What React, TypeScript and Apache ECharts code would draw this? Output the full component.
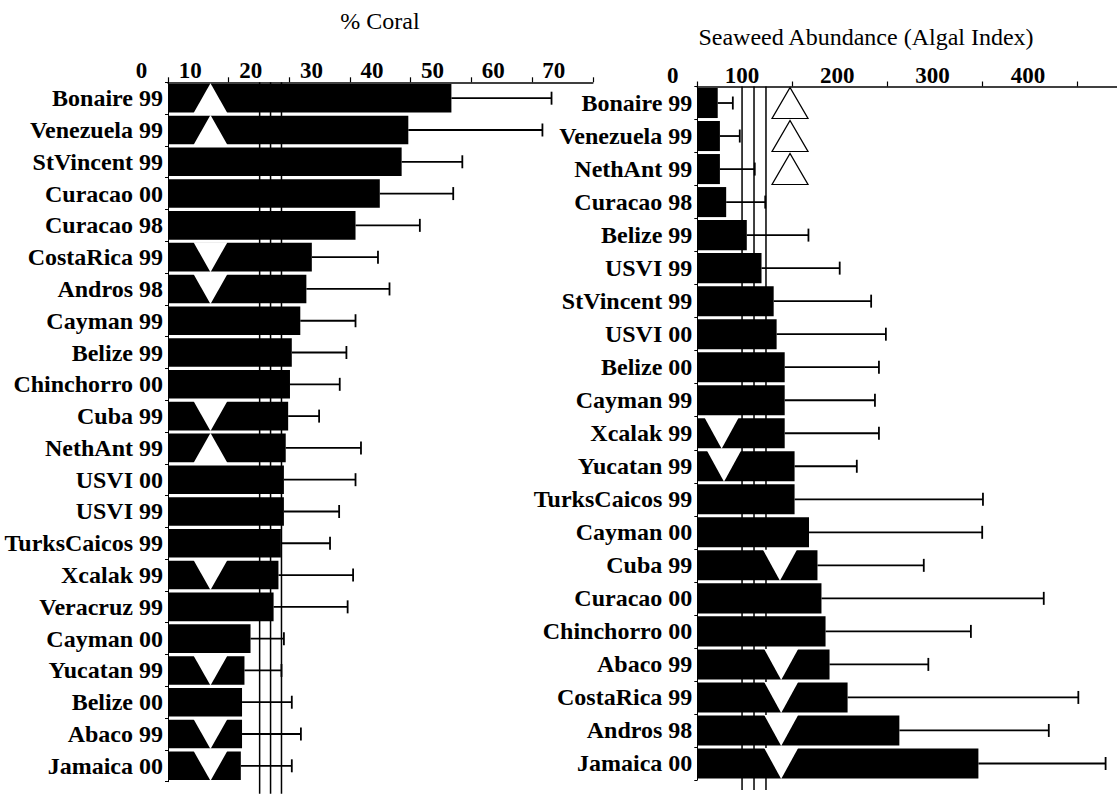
import React, { useEffect, useRef } from "react";
import * as echarts from "echarts";

// ---- % live coral cover by site (mean and upper error) ----
const coralSites = [
  "Bonaire 99", "Venezuela 99", "StVincent 99", "Curacao 00", "Curacao 98",
  "CostaRica 99", "Andros 98", "Cayman 99", "Belize 99", "Chinchorro 00",
  "Cuba 99", "NethAnt 99", "USVI 00", "USVI 99", "TurksCaicos 99",
  "Xcalak 99", "Veracruz 99", "Cayman 00", "Yucatan 99", "Belize 00",
  "Abaco 99", "Jamaica 00",
];
const coralMean = [
  46.7, 39.6, 38.5, 34.9, 30.9, 23.7, 22.8, 21.8, 20.4, 20.1, 19.8,
  19.4, 19.1, 19.1, 18.6, 18.2, 17.4, 13.6, 12.6, 12.2, 12.2, 12.0,
];
const coralSd = [
  16.5, 22.1, 10.0, 12.1, 10.6, 10.9, 13.7, 9.1, 9.0, 8.2, 5.1,
  12.4, 11.8, 9.1, 8.1, 12.3, 12.2, 5.5, 6.1, 8.2, 9.7, 8.4,
];
const coralTrend = [
  "up", "up", "", "", "", "down", "down", "", "", "", "down",
  "up", "", "", "", "down", "", "", "down", "", "down", "down",
];
const coralRefLines = [15.1, 16.9, 18.7];
const coralTicks = [0, 10, 20, 30, 40, 50, 60, 70];

// ---- Seaweed abundance (algal index) by site ----
const algaeSites = [
  "Bonaire 99", "Venezuela 99", "NethAnt 99", "Curacao 98", "Belize 99",
  "USVI 99", "StVincent 99", "USVI 00", "Belize 00", "Cayman 99",
  "Xcalak 99", "Yucatan 99", "TurksCaicos 99", "Cayman 00", "Cuba 99",
  "Curacao 00", "Chinchorro 00", "Abaco 99", "CostaRica 99", "Andros 98",
  "Jamaica 00",
];
const algaeMean = [
  21.5, 23.8, 23.8, 30.4, 52.1, 67.6, 80.4, 83.5, 92.0, 92.0, 92.0,
  102.4, 102.4, 117.6, 126.5, 130.7, 135.0, 139.2, 158.2, 212.7, 295.9,
];
const algaeSd = [
  15.9, 20.9, 36.7, 41.1, 64.9, 82.3, 102.6, 115.0, 99.2, 95.0, 99.2,
  65.5, 198.3, 182.3, 111.9, 234.0, 153.0, 104.0, 242.9, 157.3, 133.9,
];
const algaeTrend = [
  "up", "up", "up", "", "", "", "", "", "", "", "down",
  "down", "", "", "down", "", "", "down", "down", "down", "down",
];
const algaeRefLines = [47.1, 59.7, 72.3];
const algaeTicks = [0, 100, 200, 300, 400];

// where the trend markers sit along each value axis
const CORAL_MARKER_AT = 7;
const ALGAE_MARKER_AT: Record<string, number> = {
  "Bonaire 99": 97.6, "Venezuela 99": 97.6, "NethAnt 99": 97.6,
  "Xcalak 99": 25.6, "Yucatan 99": 28.1, "Cuba 99": 87,
  "Abaco 99": 88.3, "CostaRica 99": 88.3, "Andros 98": 88.3, "Jamaica 00": 88.3,
};

const FONT = "Liberation Serif, Times New Roman, serif";
const BLACK = "#000";

const errorBars = (capHalf: number) => (params: any, api: any) => {
  const row = api.value(1);
  const a = api.coord([api.value(0), row]);
  const b = api.coord([api.value(2), row]);
  const style = { stroke: BLACK, lineWidth: 1.8 };
  return {
    type: "group",
    children: [
      { type: "line", shape: { x1: a[0], y1: a[1], x2: b[0], y2: b[1] }, style },
      { type: "line", shape: { x1: b[0], y1: b[1] - capHalf, x2: b[0], y2: b[1] + capHalf }, style },
    ],
  };
};

const refLine = (extend: number) => (params: any, api: any) => {
  const x = api.coord([api.value(0), 0])[0];
  const cs = params.coordSys;
  return {
    type: "line",
    shape: { x1: x, y1: cs.y, x2: x, y2: cs.y + cs.height + extend },
    style: { stroke: BLACK, lineWidth: 1.5 },
  };
};

const tickLabel = (values: number[], zeroShift: number) => ({
  margin: 0,
  color: BLACK,
  fontFamily: FONT,
  fontWeight: "bold" as const,
  fontSize: 23,
  customValues: values,
  formatter: (v: number) => (v === 0 ? "{zero|0}" : String(v)),
  rich: {
    zero: {
      padding: [0, 0, 0, zeroShift * 2],
      color: BLACK,
      fontFamily: FONT,
      fontWeight: "bold" as const,
      fontSize: 23,
    },
  },
});

const categoryAxis = (gridIndex: number, data: string[], shiftDown: number) => ({
  type: "category" as const,
  gridIndex,
  data,
  inverse: true,
  axisLine: { show: true, lineStyle: { color: BLACK, width: 1 } },
  axisTick: { show: true, length: 3, lineStyle: { color: BLACK } },
  axisLabel: {
    margin: 5,
    color: BLACK,
    fontFamily: FONT,
    fontWeight: "bold" as const,
    fontSize: 24,
    padding: [shiftDown * 2, 0, 0, 0],
  },
  splitLine: { show: false },
});

const dataAxis = (gridIndex: number, max: number, ticks: number[]) => ({
  type: "value" as const,
  gridIndex,
  position: "top" as const,
  min: 0,
  max,
  axisLine: { show: true, lineStyle: { color: BLACK, width: 1.5 } },
  axisTick: { show: true, length: 5, customValues: ticks, lineStyle: { color: BLACK, width: 1.2 } },
  axisLabel: { show: false },
  splitLine: { show: false },
});

const labelAxis = (gridIndex: number, ticks: number[], zeroShift: number) => ({
  type: "value" as const,
  gridIndex,
  position: "top" as const,
  min: ticks[0],
  max: ticks[ticks.length - 1],
  axisLine: { show: false },
  axisTick: { show: false },
  splitLine: { show: false },
  axisLabel: tickLabel(ticks, zeroShift),
});

function buildOption() {
  const coralGrid = { left: 168, top: 82.3, width: 424.8, height: 699.4 };
  const algaeGrid = { left: 697.3, top: 86.5, width: 419.7, height: 693.5 };

  return {
    animation: false,
    backgroundColor: "#fff",
    graphic: [
      {
        type: "text", x: 380, y: 21,
        style: { text: "% Coral", fontFamily: FONT, fontSize: 24, fill: BLACK, align: "center", verticalAlign: "middle" },
      },
      {
        type: "text", x: 866, y: 37,
        style: { text: "Seaweed Abundance (Algal Index)", fontFamily: FONT, fontSize: 24, fill: BLACK, align: "center", verticalAlign: "middle" },
      },
    ],
    grid: [
      coralGrid,
      { left: 129.6, top: coralGrid.top, width: 424.2, height: coralGrid.height },
      algaeGrid,
      { left: 646.7, top: algaeGrid.top, width: 381.2, height: algaeGrid.height },
    ],
    xAxis: [
      dataAxis(0, 70, coralTicks),
      labelAxis(1, coralTicks, 12),
      dataAxis(2, 441.8, algaeTicks),
      labelAxis(3, algaeTicks, 26),
    ],
    yAxis: [
      categoryAxis(0, coralSites, 3),
      { type: "value", gridIndex: 1, show: false },
      categoryAxis(2, algaeSites, 5),
      { type: "value", gridIndex: 3, show: false },
    ],
    series: [
      // coral panel
      {
        type: "custom", xAxisIndex: 0, yAxisIndex: 0, z: 1, silent: true,
        renderItem: refLine(12),
        encode: { x: 0, y: 1 },
        data: coralRefLines.map((v) => [v, 0]),
      },
      {
        type: "bar", xAxisIndex: 0, yAxisIndex: 0, z: 2, barWidth: "90%",
        itemStyle: { color: BLACK },
        data: coralMean,
      },
      {
        type: "custom", xAxisIndex: 0, yAxisIndex: 0, z: 3, silent: true,
        renderItem: errorBars(6.5),
        encode: { x: [0, 2], y: 1 },
        data: coralMean.map((m, i) => [m, i, m + coralSd[i]]),
      },
      {
        type: "scatter", xAxisIndex: 0, yAxisIndex: 0, z: 4, silent: true,
        symbol: "triangle", symbolSize: [34, 30],
        itemStyle: { color: "#fff", opacity: 1 },
        data: coralSites
          .map((s, i) => ({ s, t: coralTrend[i] }))
          .filter((d) => d.t)
          .map((d) => ({ value: [CORAL_MARKER_AT, d.s], symbolRotate: d.t === "down" ? 180 : 0 })),
      },
      // algae panel
      {
        type: "custom", xAxisIndex: 2, yAxisIndex: 2, z: 1, silent: true,
        renderItem: refLine(10),
        encode: { x: 0, y: 1 },
        data: algaeRefLines.map((v) => [v, 0]),
      },
      {
        type: "bar", xAxisIndex: 2, yAxisIndex: 2, z: 2, barWidth: "91%",
        itemStyle: { color: BLACK },
        data: algaeMean,
      },
      {
        type: "custom", xAxisIndex: 2, yAxisIndex: 2, z: 3, silent: true,
        renderItem: errorBars(6.5),
        encode: { x: [0, 2], y: 1 },
        data: algaeMean.map((m, i) => [m, i, m + algaeSd[i]]),
      },
      {
        type: "scatter", xAxisIndex: 2, yAxisIndex: 2, z: 4, silent: true,
        symbol: "triangle",
        data: algaeSites
          .map((s, i) => ({ s, t: algaeTrend[i] }))
          .filter((d) => d.t)
          .map((d) => ({
            value: [ALGAE_MARKER_AT[d.s], d.s],
            symbolRotate: d.t === "down" ? 180 : 0,
            symbolSize: d.t === "down" ? [34, 31] : [36, 31],
            itemStyle:
              d.t === "up"
                ? { color: "#fff", borderColor: BLACK, borderWidth: 1.2, opacity: 1 }
                : { color: "#fff", borderWidth: 0, opacity: 1 },
          })),
      },
    ],
  };
}

export default function App() {
  const ref = useRef<HTMLDivElement>(null);
  useEffect(() => {
    if (!ref.current) return;
    const chart = echarts.init(ref.current, undefined, { renderer: "svg" });
    chart.setOption(buildOption() as any);
    return () => chart.dispose();
  }, []);
  return (
    <div
      ref={ref}
      style={{ position: "absolute", left: 0, top: 0, width: 1117, height: 794, background: "#fff" }}
    />
  );
}
